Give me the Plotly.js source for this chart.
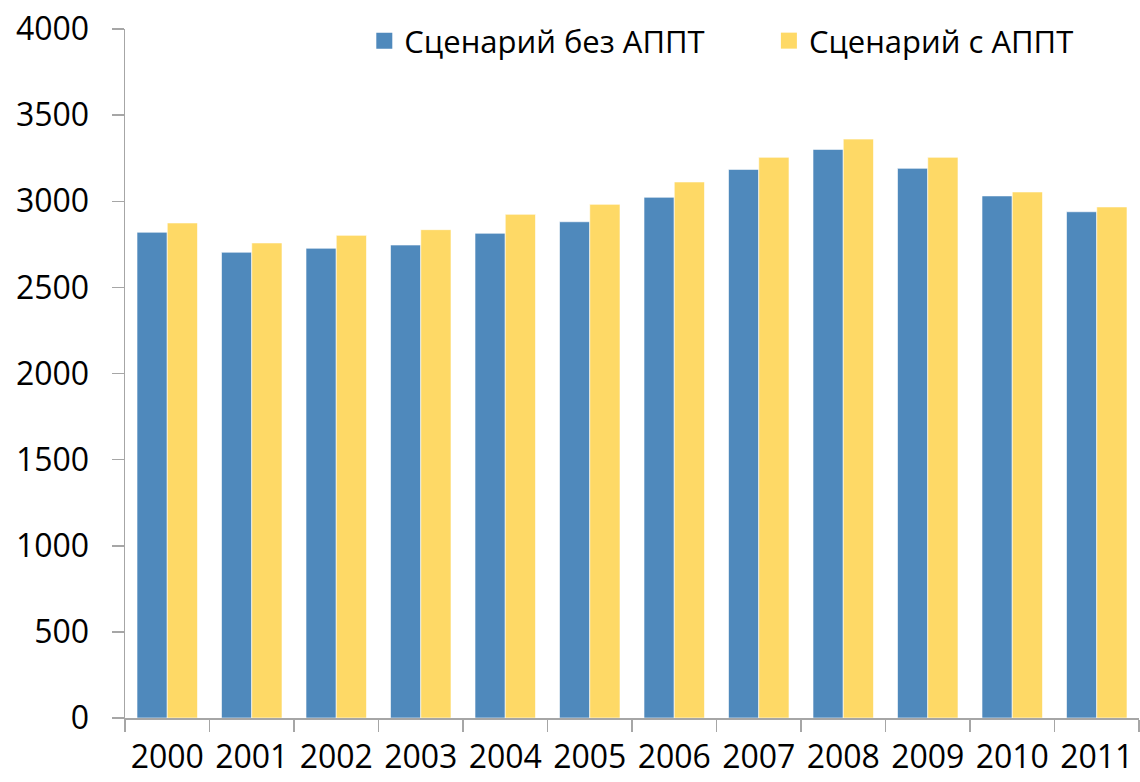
<!DOCTYPE html>
<html>
<head>
<meta charset="utf-8">
<script src="https://cdn.plot.ly/plotly-3.0.1.min.js"></script>
<style>
html,body{margin:0;padding:0;background:#fff;}
#chart{width:1140px;height:782px;}
</style>
</head>
<body>
<div id="chart"></div>
<script>
var years = ["2000","2001","2002","2003","2004","2005","2006","2007","2008","2009","2010","2011"];
var seriesNames = ["Сценарий без АППТ", "Сценарий с АППТ"];
var withoutAPPT = [2820, 2704, 2727, 2746, 2814, 2881, 3023, 3185, 3301, 3191, 3031, 2939];
var withAPPT = [2874, 2758, 2802, 2835, 2924, 2982, 3112, 3255, 3361, 3255, 3054, 2967];
var yTicks = [0, 500, 1000, 1500, 2000, 2500, 3000, 3500, 4000];

var colors = ["#4F89BC", "#FED966"];
var FONT = "Open Sans, Noto Sans, sans-serif";

var traces = [
  {type: "bar", x: years, y: withoutAPPT, name: seriesNames[0], showlegend: false,
   marker: {color: colors[0], line: {color: "rgba(255,255,255,0.6)", width: 1}}},
  {type: "bar", x: years, y: withAPPT, name: seriesNames[1], showlegend: false,
   marker: {color: colors[1], line: {color: "rgba(255,255,255,0.6)", width: 1}}},
  {type: "scatter", mode: "markers", x: [null], y: [null], name: seriesNames[0], legend: "legend",
   marker: {symbol: "square", size: 20, color: colors[0]}},
  {type: "scatter", mode: "markers", x: [null], y: [null], name: seriesNames[1], legend: "legend2",
   marker: {symbol: "square", size: 20, color: colors[1]}}
];

var legendStyle = function (xPos) {
  return {orientation: "h", x: xPos, xanchor: "left", y: 0.9826, yanchor: "middle",
          font: {family: FONT, size: 31, color: "#000"}, bgcolor: "rgba(0,0,0,0)",
          itemsizing: "trace"};
};

var layout = {
  width: 1140, height: 782,
  paper_bgcolor: "#fff", plot_bgcolor: "#fff",
  margin: {l: 125, r: 1, t: 29, b: 64},
  font: {family: FONT, color: "#000", size: 32},
  barmode: "group", bargap: 0.284, bargroupgap: 0,
  showlegend: true,
  legend: legendStyle(0.236),
  legend2: legendStyle(0.635),
  xaxis: {type: "category", showgrid: false, zeroline: false, automargin: false,
          showline: true, linecolor: "#A6A6A6", linewidth: 1.5,
          ticks: "outside", tickson: "boundaries", ticklen: 12, tickcolor: "#A6A6A6", tickwidth: 1.5,
          tickangle: 0, ticklabelstandoff: 10,
          tickfont: {family: FONT, size: 32, color: "#000"}},
  yaxis: {range: [0, 4000], tickvals: yTicks, showgrid: false, zeroline: false, automargin: false,
          showline: true, linecolor: "#A6A6A6", linewidth: 1.5,
          ticks: "outside", ticklen: 12, tickcolor: "#A6A6A6", tickwidth: 1.5,
          ticklabelstandoff: 16,
          tickfont: {family: FONT, size: 32, color: "#000"}}
};

Plotly.newPlot("chart", traces, layout, {displayModeBar: false, staticPlot: true});
</script>
</body>
</html>
